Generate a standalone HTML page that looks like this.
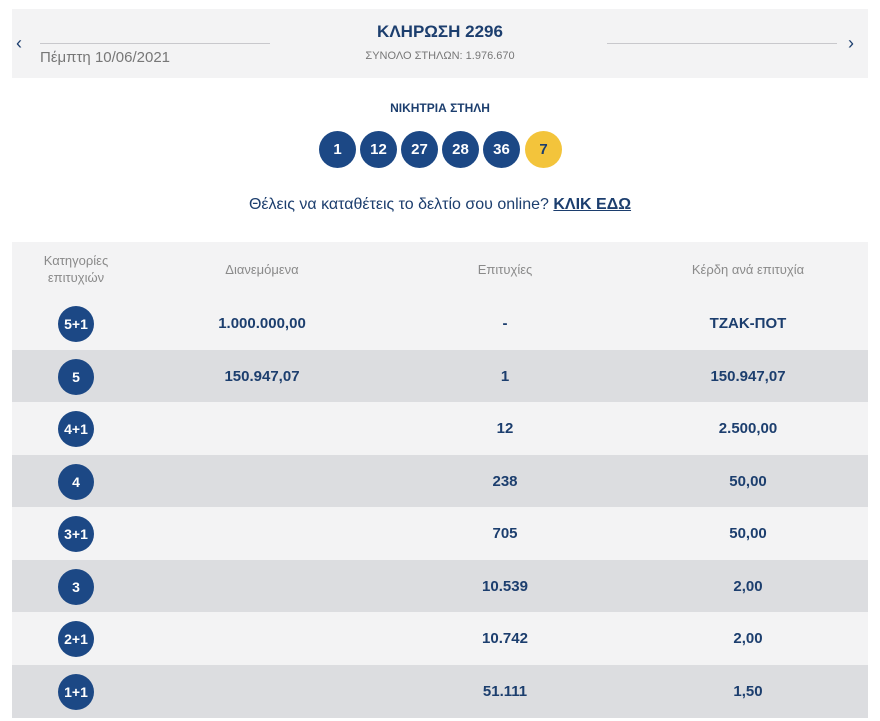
<!DOCTYPE html>
<html><head><meta charset="utf-8"><style>
body{margin:0;width:880px;height:721px;background:#fff;font-family:"Liberation Sans","DejaVu Sans",sans-serif;position:relative;overflow:hidden}
.a{position:absolute}
.top{left:12px;top:9px;width:856px;height:69px;background:#f3f3f4}
.line{height:1px;background:#c8c8cc;top:43px}
.c{transform:translateX(-50%);white-space:nowrap;text-align:center}
.ball{width:37px;height:37px;border-radius:50%;background:#1c4885;color:#fff;font-weight:bold;font-size:15px;line-height:37px;text-align:center;top:131px}
.row{left:12px;width:856px;height:53px}
.cat{width:36px;height:36px;border-radius:50%;background:#1c4885;color:#fff;font-weight:bold;font-size:14px;line-height:36px;text-align:center;left:58px}
.v{font-weight:bold;color:#1c3e6e;font-size:15px}
.h{color:#8a8a8a;font-size:13px}
</style></head><body>
<div class="a top"></div>
<div class="a" style="left:16px;top:33px;font-size:18px;color:#1c3e6e">‹</div>
<div class="a" style="left:848px;top:33px;font-size:18px;color:#1c3e6e">›</div>
<div class="a line" style="left:40px;width:230px"></div>
<div class="a line" style="left:607px;width:230px"></div>
<div class="a" style="left:40px;top:49px;font-size:15px;color:#777">Πέμπτη 10/06/2021</div>
<div class="a c" style="left:440px;top:22px;font-size:17px;font-weight:bold;color:#1c3e6e">ΚΛΗΡΩΣΗ 2296</div>
<div class="a c" style="left:440px;top:50px;font-size:11px;color:#777">ΣΥΝΟΛΟ ΣΤΗΛΩΝ: 1.976.670</div>
<div class="a c" style="left:440px;top:101px;font-size:12px;font-weight:bold;color:#1c3e6e">ΝΙΚΗΤΡΙΑ ΣΤΗΛΗ</div>
<div class="a ball" style="left:319px">1</div>
<div class="a ball" style="left:360px">12</div>
<div class="a ball" style="left:401px">27</div>
<div class="a ball" style="left:442px">28</div>
<div class="a ball" style="left:483px">36</div>
<div class="a ball" style="left:525px;background:#f3c43b;color:#1c3e6e">7</div>
<div class="a c" style="left:440px;top:196px;font-size:16px;color:#1c3e6e">Θέλεις να καταθέτεις το δελτίο σου online? <b style="text-decoration:underline">ΚΛΙΚ ΕΔΩ</b></div>
<div class="a row" style="top:242px;height:55px;background:#f3f3f4"></div>
<div class="a c h" style="left:76px;top:252px;line-height:17px">Κατηγορίες<br>επιτυχιών</div>
<div class="a c h" style="left:262px;top:262px">Διανεμόμενα</div>
<div class="a c h" style="left:505px;top:262px">Επιτυχίες</div>
<div class="a c h" style="left:748px;top:262px">Κέρδη ανά επιτυχία</div>

<div class="a row" style="top:297px;background:#f3f3f4"></div>
<div class="a row" style="top:350px;background:#dcdde0"></div>
<div class="a row" style="top:402px;background:#f3f3f4"></div>
<div class="a row" style="top:455px;background:#dcdde0"></div>
<div class="a row" style="top:507px;background:#f3f3f4"></div>
<div class="a row" style="top:560px;background:#dcdde0"></div>
<div class="a row" style="top:612px;background:#f3f3f4"></div>
<div class="a row" style="top:665px;background:#dcdde0"></div>

<div class="a cat" style="top:306px">5+1</div>
<div class="a c v" style="left:262px;top:315px">1.000.000,00</div>
<div class="a c v" style="left:505px;top:315px">-</div>
<div class="a c v" style="left:748px;top:315px">ΤΖΑΚ-ΠΟΤ</div>

<div class="a cat" style="top:359px">5</div>
<div class="a c v" style="left:262px;top:368px">150.947,07</div>
<div class="a c v" style="left:505px;top:368px">1</div>
<div class="a c v" style="left:748px;top:368px">150.947,07</div>

<div class="a cat" style="top:411px">4+1</div>
<div class="a c v" style="left:505px;top:420px">12</div>
<div class="a c v" style="left:748px;top:420px">2.500,00</div>

<div class="a cat" style="top:464px">4</div>
<div class="a c v" style="left:505px;top:473px">238</div>
<div class="a c v" style="left:748px;top:473px">50,00</div>

<div class="a cat" style="top:516px">3+1</div>
<div class="a c v" style="left:505px;top:525px">705</div>
<div class="a c v" style="left:748px;top:525px">50,00</div>

<div class="a cat" style="top:569px">3</div>
<div class="a c v" style="left:505px;top:578px">10.539</div>
<div class="a c v" style="left:748px;top:578px">2,00</div>

<div class="a cat" style="top:621px">2+1</div>
<div class="a c v" style="left:505px;top:630px">10.742</div>
<div class="a c v" style="left:748px;top:630px">2,00</div>

<div class="a cat" style="top:674px">1+1</div>
<div class="a c v" style="left:505px;top:683px">51.111</div>
<div class="a c v" style="left:748px;top:683px">1,50</div>
</body></html>
